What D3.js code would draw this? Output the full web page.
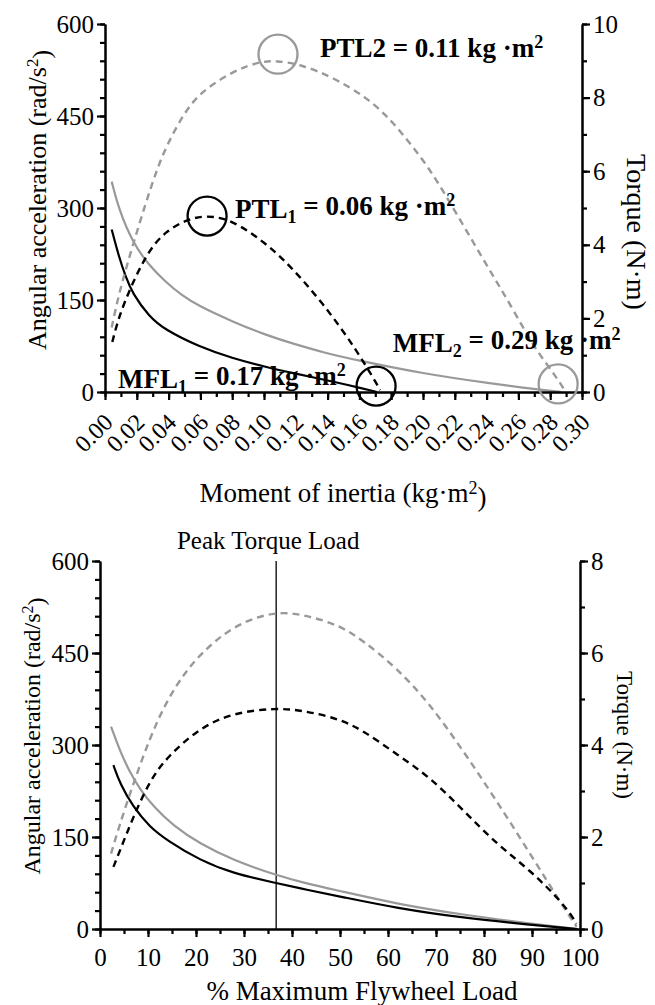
<!DOCTYPE html>
<html>
<head>
<meta charset="utf-8">
<script src="https://cdn.jsdelivr.net/npm/d3@7"></script>
<style>
body { margin: 0; background: #fff; }
text { font-family: "Liberation Serif", "Times New Roman", serif; fill: #000; }
.tick line { stroke-width: 2.2; }
</style>
</head>
<body>
<svg id="chart" width="655" height="1005"></svg>
<script>
/*
 * Values.
 * Top panel: x = moment of inertia (kg·m²), solid = angular acceleration (left axis),
 * dashed = torque (right axis). Series 1 black, series 2 grey.
 */
var topAccel1 = [[0.0042,265],[0.0088,220],[0.013,188],[0.0172,161],[0.0277,123],[0.038,101],
    [0.059,74],[0.080,55],[0.101,41],[0.118,31],[0.147,15],[0.160,7],[0.171,0]];
var topAccel2 = [[0.0042,343],[0.0088,297],[0.0172,245],[0.0277,206],[0.038,180],[0.048,158],
    [0.059,140],[0.080,115],[0.101,93],[0.118,79],[0.138,64],[0.158,52],[0.200,30],[0.242,14],
    [0.276,3],[0.287,0]];
var topTorque1 = [[0.0046,1.36],[0.0088,2.06],[0.0172,2.96],[0.0277,3.86],[0.038,4.36],[0.051,4.68],
    [0.0634,4.81],[0.080,4.68],[0.101,4.05],[0.116,3.45],[0.137,2.42],[0.158,1.16],[0.1716,0.17],[0.173,0.05]];
var topTorque2 = [[0.0042,1.75],[0.0088,2.69],[0.0172,3.95],[0.0256,5.13],[0.0325,6.03],[0.0388,6.7],
    [0.0493,7.55],[0.0597,8.14],[0.0807,8.73],[0.0975,8.98],[0.108,9.0],[0.1226,8.91],[0.1436,8.55],
    [0.1646,8.0],[0.1772,7.5],[0.1855,7.1],[0.204,6.1],[0.221,4.85],[0.242,3.3],[0.2505,2.7],
    [0.263,1.75],[0.271,1.15],[0.284,0.4],[0.289,0.05]];

// Bottom panel: x = % of maximum flywheel load
var botAccel1 = [[2.8,267],[4.17,237],[6.9,199],[10.4,166],[13.9,145],[20.8,112],[27.8,90.5],
    [36.6,75],[43,64],[50,53],[61.8,34],[75.7,18],[89.6,7],[99.5,0]];
var botAccel2 = [[2.3,330],[4.17,290],[6.25,255],[8.33,228],[11.1,200],[15.3,168],[20.8,139],
    [27.8,112],[36.6,88],[43,74],[50,62],[61.8,41],[75.7,23],[89.6,9],[99.5,0]];
var botTorque1 = [[2.8,1.35],[4.17,1.71],[6.9,2.43],[10.4,3.23],[13.9,3.73],[20.8,4.38],[27.8,4.70],
    [36.6,4.81],[43,4.74],[50,4.56],[54.9,4.31],[61.8,3.80],[68.75,3.30],[75.7,2.58],[82.6,1.85],
    [89.6,1.28],[96.5,0.56],[99.3,0.12]];
var botTorque2 = [[2.3,1.64],[4.17,2.29],[6.9,3.15],[10.4,4.16],[13.9,4.96],[17.4,5.53],[20.8,5.97],
    [27.8,6.61],[36.6,6.92],[43,6.82],[50,6.6],[54.9,6.26],[61.8,5.68],[68.75,4.89],[75.7,3.87],
    [82.6,2.79],[89.6,1.64],[96.5,0.48],[99.3,0.05]];

var peakTorqueLoad = 36.7;

// annotation markers on the top panel: [inertia, torque, colour]
var topCircles = [[0.1088,9.18,'#999'],[0.0642,4.78,'#000'],[0.1705,0.16,'#000'],[0.285,0.22,'#999']];
// annotation labels: [inertia, torque, name, subscript, value]
var topNotes = [[0.1352,9.1,'PTL2','','0.11'],[0.0818,4.73,'PTL','1','0.06'],
    [0.181,1.09,'MFL','2','0.29'],[0.0082,0.11,'MFL','1','0.17']];

var topXTicks = d3.range(0, 0.3001, 0.02);
var topXMinor = d3.range(0, 0.3001, 0.01);
var accelTicks = [0,150,300,450,600];
var accelMinor = d3.range(0, 601, 30);
var topTorqueTicks = [0,2,4,6,8,10];
var topTorqueMinor = d3.range(0, 11, 1);
var botXTicks = d3.range(0, 101, 10);
var botXMinor = d3.range(0, 101, 5);
var botTorqueTicks = [0,2,4,6,8];
var botTorqueMinor = d3.range(0, 9, 1);

var grey = '#999';
var svg = d3.select('#chart');

/*
 * Scales
 */
var xTop = d3.scaleLinear().domain([0, 0.30]).range([105, 582]);
var yTopL = d3.scaleLinear().domain([0, 600]).range([392, 24]);
var yTopR = d3.scaleLinear().domain([0, 10]).range([392, 24]);

var xBot = d3.scaleLinear().domain([0, 100]).range([100, 580]);
var yBotL = d3.scaleLinear().domain([0, 600]).range([929, 561]);
var yBotR = d3.scaleLinear().domain([0, 8]).range([929, 561]);

// minor ticks without labels, then major ticks with labels on top
function axisPair(axisFn, scale, minor, major, fmt, transform, fontSize) {
    svg.append('g')
        .attr('transform', transform)
        .call(axisFn(scale).tickValues(minor).tickSize(5).tickSizeOuter(0).tickFormat(''));
    var g = svg.append('g')
        .attr('transform', transform)
        .call(axisFn(scale).tickValues(major).tickSize(8).tickSizeOuter(0).tickFormat(fmt).tickPadding(3));
    g.selectAll('.tick text').style('font-size', fontSize + 'px');
    g.select('.domain').style('stroke-width', 2.5);
    return g;
}

function line(x, y) {
    return d3.line()
        .x(function(d) { return x(d[0]); })
        .y(function(d) { return y(d[1]); })
        .curve(d3.curveBasis);
}

function drawSeries(data, x, y, colour, dashed) {
    svg.append('path')
        .datum(data)
        .attr('d', line(x, y))
        .attr('fill', 'none')
        .attr('stroke', colour)
        .attr('stroke-width', dashed ? 2.4 : 2.2)
        .attr('stroke-dasharray', dashed ? '7,5' : null);
}

/*
 * Top panel
 */
drawSeries(topAccel2, xTop, yTopL, grey, false);
drawSeries(topAccel1, xTop, yTopL, '#000', false);
drawSeries(topTorque2, xTop, yTopR, grey, true);
drawSeries(topTorque1, xTop, yTopR, '#000', true);

axisPair(d3.axisLeft, yTopL, accelMinor, accelTicks, d3.format('d'), 'translate(105,0)', 25);
axisPair(d3.axisRight, yTopR, topTorqueMinor, topTorqueTicks, d3.format('d'), 'translate(582,0)', 25);
var gx = axisPair(d3.axisBottom, xTop, topXMinor, topXTicks, d3.format('.2f'), 'translate(0,392)', 24);
gx.selectAll('.tick text')
    .attr('text-anchor', 'end')
    .attr('dy', '0.35em')
    .attr('transform', 'translate(-5,18) rotate(-45)');

svg.selectAll('.mark')
    .data(topCircles)
    .enter().append('circle')
    .attr('cx', function(d) { return xTop(d[0]); })
    .attr('cy', function(d) { return yTopR(d[1]); })
    .attr('r', 19.5)
    .attr('fill', 'none')
    .attr('stroke', function(d) { return d[2]; })
    .attr('stroke-width', 2.3);

var notes = svg.selectAll('.note')
    .data(topNotes)
    .enter().append('text')
    .attr('x', function(d) { return xTop(d[0]); })
    .attr('y', function(d) { return yTopR(d[1]); })
    .style('font-size', '27px')
    .style('font-weight', 'bold');
notes.each(function(d) {
    var t = d3.select(this);
    t.append('tspan').text(d[2]);
    if (d[3]) {
        t.append('tspan').attr('dy', '0.3em').style('font-size', '18px').text(d[3]);
        t.append('tspan').attr('dy', '-0.3em').text(' = ' + d[4] + ' kg \u00b7m');
    } else {
        t.append('tspan').text(' = ' + d[4] + ' kg \u00b7m');
    }
    t.append('tspan').attr('dy', '-0.5em').style('font-size', '18px').text('2');
});

svg.append('text')
    .attr('transform', 'translate(46,200) rotate(-90)')
    .attr('text-anchor', 'middle')
    .style('font-size', '26px')
    .html('Angular acceleration (rad/s<tspan dy="-0.45em" font-size="17px">2</tspan><tspan dy="0.45em">)</tspan>');

svg.append('text')
    .attr('transform', 'translate(627,232) rotate(90)')
    .attr('text-anchor', 'middle')
    .style('font-size', '28px')
    .text('Torque (N\u00b7m)');

svg.append('text')
    .attr('x', 343).attr('y', 502)
    .attr('text-anchor', 'middle')
    .style('font-size', '27px')
    .html('Moment of inertia (kg\u00b7m<tspan dy="-0.45em" font-size="18px">2</tspan><tspan dy="0.45em">)</tspan>');

/*
 * Bottom panel
 */
svg.append('line')
    .attr('x1', xBot(peakTorqueLoad)).attr('x2', xBot(peakTorqueLoad))
    .attr('y1', yBotL(600)).attr('y2', yBotL(0))
    .attr('stroke', '#000')
    .attr('stroke-width', 1.3);

svg.append('text')
    .attr('x', xBot(peakTorqueLoad) - 8).attr('y', 549)
    .attr('text-anchor', 'middle')
    .style('font-size', '25px')
    .text('Peak Torque Load');

drawSeries(botAccel2, xBot, yBotL, grey, false);
drawSeries(botAccel1, xBot, yBotL, '#000', false);
drawSeries(botTorque2, xBot, yBotR, grey, true);
drawSeries(botTorque1, xBot, yBotR, '#000', true);

axisPair(d3.axisLeft, yBotL, accelMinor, accelTicks, d3.format('d'), 'translate(100,0)', 25);
axisPair(d3.axisRight, yBotR, botTorqueMinor, botTorqueTicks, d3.format('d'), 'translate(580,0)', 25);
var gbx = axisPair(d3.axisBottom, xBot, botXMinor, botXTicks, d3.format('d'), 'translate(0,929)', 25);
gbx.selectAll('.tick text').attr('dy', '1.05em');

svg.append('text')
    .attr('transform', 'translate(40,736) rotate(-90)')
    .attr('text-anchor', 'middle')
    .style('font-size', '24px')
    .html('Angular acceleration (rad/s<tspan dy="-0.45em" font-size="16px">2</tspan><tspan dy="0.45em">)</tspan>');

svg.append('text')
    .attr('transform', 'translate(617,735) rotate(90)')
    .attr('text-anchor', 'middle')
    .style('font-size', '23px')
    .text('Torque (N\u00b7m)');

svg.append('text')
    .attr('x', 362).attr('y', 1000)
    .attr('text-anchor', 'middle')
    .style('font-size', '27px')
    .text('% Maximum Flywheel Load');
</script>
</body>
</html>
